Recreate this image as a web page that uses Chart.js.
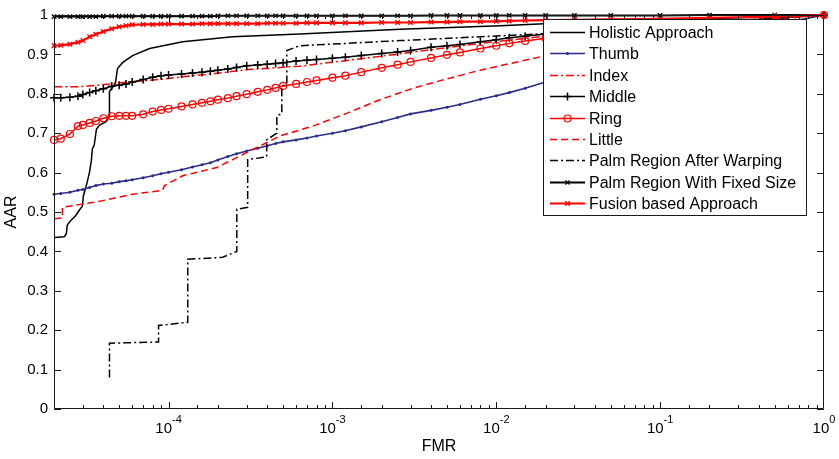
<!DOCTYPE html>
<html><head><meta charset="utf-8">
<script src="https://cdn.jsdelivr.net/npm/chart.js@4/dist/chart.umd.min.js"></script>
<style>html,body{margin:0;padding:0;background:#fff}canvas{display:block}</style>
</head><body>
<canvas id="c" width="839" height="459"></canvas>
<script>
// ---------- data ----------
const seriesNames = ['Holistic Approach','Thumb','Index','Middle','Ring','Little','Palm Region After Warping','Palm Region With Fixed Size','Fusion based Approach'];

// common FMR sample positions used by the marker curves
const gridX = [2e-5,2.2e-5,2.5e-5,2.8e-5,3e-5,3.3e-5,3.6e-5,4e-5,4.5e-5,5e-5,5.5e-5,6e-5,7e-5,8e-5,9e-5,
  1e-4,1.2e-4,1.4e-4,1.6e-4,1.8e-4,2e-4,2.3e-4,2.6e-4,3e-4,3.5e-4,4e-4,4.5e-4,5e-4,6e-4,7e-4,8e-4,
  1e-3,1.2e-3,1.5e-3,2e-3,2.5e-3,3e-3,4e-3,5e-3,6e-3,8e-3,1e-2,1.2e-2,1.5e-2,2e-2,3e-2,5e-2,0.1,0.2,0.5,1];

const thumbY = [0.545,0.547,0.55,0.555,0.557,0.562,0.567,0.571,0.573,0.577,0.579,0.582,0.587,0.592,0.597,
  0.601,0.607,0.614,0.62,0.625,0.632,0.641,0.648,0.655,0.662,0.668,0.674,0.678,0.683,0.688,0.693,
  0.70,0.706,0.716,0.729,0.74,0.749,0.758,0.766,0.773,0.786,0.795,0.803,0.814,0.83,0.85,0.875,0.905,0.935,0.975,1.0];
const middleY = [0.790,0.790,0.791,0.794,0.798,0.803,0.808,0.813,0.819,0.822,0.825,0.830,0.836,0.842,0.846,
  0.848,0.850,0.853,0.855,0.857,0.860,0.863,0.867,0.871,0.873,0.875,0.877,0.879,0.883,0.885,0.887,
  0.890,0.893,0.897,0.902,0.906,0.910,0.918,0.922,0.925,0.932,0.937,0.942,0.946,0.952,0.957,0.963,0.972,0.980,0.992,1.0];
const ringY = [0.683,0.686,0.698,0.718,0.721,0.726,0.731,0.738,0.743,0.744,0.744,0.744,0.748,0.755,0.759,
  0.762,0.768,0.773,0.777,0.781,0.785,0.789,0.794,0.799,0.805,0.810,0.815,0.820,0.825,0.830,0.834,
  0.841,0.846,0.855,0.866,0.874,0.881,0.891,0.899,0.905,0.915,0.922,0.928,0.934,0.941,0.950,0.959,0.970,0.980,0.992,1.0];
const fixedY = [0.996,0.996,0.996,0.996,0.996,0.996,0.996,0.997,0.997,0.997,0.997,0.997,0.997,0.997,0.997,
  0.997,0.997,0.997,0.997,0.997,0.998,0.998,0.998,0.998,0.998,0.998,0.998,0.998,0.998,0.998,0.998,
  0.998,0.998,0.998,0.998,0.998,0.998,0.999,0.999,0.999,0.999,0.999,0.999,0.999,0.999,0.999,0.999,0.999,1.0,1.0,1.0];
const fusionY = [0.922,0.923,0.926,0.931,0.935,0.945,0.951,0.958,0.965,0.970,0.973,0.975,0.976,0.976,0.977,
  0.977,0.977,0.977,0.978,0.978,0.978,0.978,0.978,0.978,0.978,0.979,0.979,0.979,0.979,0.98,0.98,
  0.98,0.98,0.98,0.981,0.981,0.981,0.982,0.982,0.983,0.983,0.984,0.985,0.986,0.987,0.988,0.989,0.99,0.993,0.996,1.0];

const holisticX = [2.01e-5,2.31e-5,2.38e-5,2.41e-5,2.55e-5,2.70e-5,2.86e-5,2.98e-5,3.02e-5,3.15e-5,3.29e-5,3.38e-5,3.43e-5,3.52e-5,3.63e-5,3.78e-5,4.18e-5,4.36e-5,4.36e-5,4.74e-5,4.88e-5,5.24e-5,6.03e-5,7.66e-5,1.22e-4,2.46e-4,6.32e-4,2.59e-3,1.06e-2,2.46e-2,0.177,1];
const holisticY = [0.435,0.437,0.445,0.467,0.48,0.49,0.505,0.515,0.54,0.567,0.60,0.63,0.66,0.67,0.71,0.72,0.73,0.743,0.806,0.826,0.864,0.879,0.897,0.915,0.932,0.945,0.952,0.964,0.973,0.98,0.99,1.0];

const indexX = [2.01e-5,2.86e-5,3.78e-5,4.81e-5,7.66e-5,1.22e-4,1.97e-4,3.13e-4,6.32e-4,1.95e-3,7.98e-3,1.86e-2,0.177,1];
const indexY = [0.818,0.818,0.822,0.827,0.834,0.843,0.852,0.862,0.87,0.895,0.928,0.945,0.978,1.0];

const littleX = [2.01e-5,2.25e-5,2.25e-5,2.98e-5,3.78e-5,6.03e-5,9.18e-5,9.45e-5,1.22e-4,1.97e-4,2.46e-4,3.13e-4,3.97e-4,4.78e-4,7.6e-4,1.23e-3,1.95e-3,3.1e-3,5.0e-3,7.98e-3,1.22e-2,1.86e-2,5.73e-2,0.177,0.546,1];
const littleY = [0.483,0.485,0.512,0.52,0.527,0.545,0.555,0.567,0.592,0.613,0.633,0.655,0.676,0.693,0.718,0.751,0.785,0.814,0.838,0.86,0.877,0.894,0.93,0.965,0.99,1.0];

const warpX = [4.36e-5,4.36e-5,8.69e-5,8.69e-5,1.31e-4,1.31e-4,2.14e-4,2.61e-4,2.61e-4,3.04e-4,3.04e-4,3.97e-4,3.97e-4,4.58e-4,4.58e-4,4.91e-4,4.91e-4,5.27e-4,5.27e-4,6.32e-4,2.59e-3,1.86e-2,0.177,1];
const warpY = [0.08,0.167,0.17,0.212,0.22,0.38,0.385,0.40,0.507,0.512,0.633,0.64,0.683,0.70,0.744,0.75,0.82,0.825,0.91,0.922,0.935,0.952,0.98,1.0];

const xMin = 2e-5, xMax = 1;
const xTickValues = [1e-4, 1e-3, 1e-2, 1e-1, 1];
const xTickBase = '10';
const xTickExps = ['-4', '-3', '-2', '-1', '0'];
const yTickValues = [0,0.1,0.2,0.3,0.4,0.5,0.6,0.7,0.8,0.9,1];
const yTickLabels = ['0','0.1','0.2','0.3','0.4','0.5','0.6','0.7','0.8','0.9','1'];

// ---------- chart ----------
const FONT = "'Liberation Sans', Arial, Helvetica, sans-serif";
Chart.defaults.font.family = FONT;
Chart.defaults.color = '#000';

function pts(xs, ys) { return xs.map((v, i) => ({x: v, y: ys[i]})); }
const RED = '#ff0000', BLK = '#000000', BLUE = '#2b2b8c';
const styles = [
  {borderColor: BLK, borderWidth: 1.5, pointRadius: 0},
  {borderColor: BLUE, borderWidth: 1.6, pointStyle: 'circle', pointRadius: 1.5, pointBorderWidth: 0, pointBackgroundColor: BLUE},
  {borderColor: RED, borderWidth: 1.5, borderDash: [8,3,2,3], pointRadius: 0},
  {borderColor: BLK, borderWidth: 1.5, pointStyle: 'cross', pointRadius: 4, pointBorderWidth: 1.5, pointBorderColor: BLK},
  {borderColor: RED, borderWidth: 1.5, pointStyle: 'circle', pointRadius: 3.5, pointBorderWidth: 1.2, pointBorderColor: RED, pointBackgroundColor: 'rgba(0,0,0,0)'},
  {borderColor: RED, borderWidth: 1.5, borderDash: [7,4], pointRadius: 0},
  {borderColor: BLK, borderWidth: 1.5, borderDash: [8,3,2,3], pointRadius: 0},
  {borderColor: BLK, borderWidth: 2, pointStyle: 'crossRot', pointRadius: 3, pointBorderWidth: 1.3, pointBorderColor: BLK},
  {borderColor: RED, borderWidth: 2.2, pointStyle: 'crossRot', pointRadius: 3.2, pointBorderWidth: 1.4, pointBorderColor: RED}
];
const allX = [holisticX, gridX, indexX, gridX, gridX, littleX, warpX, gridX, gridX];
const allY = [holisticY, thumbY, indexY, middleY, ringY, littleY, warpY, fixedY, fusionY];

const datasets = seriesNames.map((name, i) => Object.assign({
  label: name,
  data: pts(allX[i], allY[i]),
  fill: false, tension: 0, clip: 4,
  order: seriesNames.length - i
}, styles[i]));

const framePlugin = {
  id: 'frame',
  afterDatasetsDraw(chart) {
    const {ctx, chartArea: a, scales: {x, y}} = chart;
    ctx.save();
    ctx.strokeStyle = '#1a1a1a';
    ctx.lineWidth = 1;
    ctx.setLineDash([]);
    ctx.beginPath();
    ctx.rect(Math.round(a.left) + 0.5, Math.round(a.top) + 0.5, Math.round(a.right - a.left) - 1, Math.round(a.bottom - a.top) - 1);
    ctx.stroke();
    ctx.beginPath();
    x.ticks.forEach(t => {
      const px = Math.round(x.getPixelForValue(t.value)) + 0.5;
      if (px < a.left + 1 || px > a.right - 1) return;
      const len = t.major ? 7 : 4;
      ctx.moveTo(px, a.bottom); ctx.lineTo(px, a.bottom - len);
      ctx.moveTo(px, a.top); ctx.lineTo(px, a.top + len);
    });
    y.ticks.forEach(t => {
      const py = Math.round(y.getPixelForValue(t.value)) + 0.5;
      ctx.moveTo(a.left, py); ctx.lineTo(a.left + 7, py);
      ctx.moveTo(a.right, py); ctx.lineTo(a.right - 7, py);
    });
    ctx.stroke();

    // x tick labels: base with superscript exponent
    ctx.fillStyle = '#000';
    ctx.textAlign = 'left';
    ctx.textBaseline = 'alphabetic';
    xTickValues.forEach((v, i) => {
      const px = x.getPixelForValue(v);
      ctx.font = '15px ' + FONT;
      const w1 = ctx.measureText(xTickBase).width;
      ctx.font = '11px ' + FONT;
      const w2 = ctx.measureText(xTickExps[i]).width;
      const start = px - (w1 + w2) / 2;
      ctx.font = '15px ' + FONT;
      ctx.fillText(xTickBase, start, 433);
      ctx.font = '11px ' + FONT;
      ctx.fillText(xTickExps[i], start + w1, 423);
    });
    ctx.restore();
  }
};

const legendPlugin = {
  id: 'boxLegend',
  afterDraw(chart) {
    const {ctx} = chart;
    const bx = 543.5, by = 19.5, bw = 263, bh = 196;
    ctx.save();
    ctx.fillStyle = '#fff';
    ctx.fillRect(bx, by, bw, bh);
    ctx.strokeStyle = '#1a1a1a'; ctx.lineWidth = 1; ctx.setLineDash([]);
    ctx.strokeRect(bx, by, bw, bh);
    ctx.font = '16px ' + FONT;
    ctx.textBaseline = 'middle';
    ctx.textAlign = 'left';
    chart.data.datasets.forEach((ds, i) => {
      const cy = Math.round(32 + i * 21.4) + 0.5;
      ctx.strokeStyle = ds.borderColor;
      ctx.lineWidth = ds.borderWidth;
      ctx.setLineDash(ds.borderDash || []);
      ctx.beginPath(); ctx.moveTo(550, cy); ctx.lineTo(585, cy); ctx.stroke();
      ctx.setLineDash([]);
      if (ds.pointRadius > 0) {
        const cx = 567.5, r = ds.pointRadius;
        ctx.strokeStyle = ds.pointBorderColor || ds.borderColor;
        ctx.fillStyle = ds.pointBackgroundColor || 'rgba(0,0,0,0)';
        ctx.lineWidth = ds.pointBorderWidth || 1;
        ctx.beginPath();
        if (ds.pointStyle === 'circle') {
          ctx.arc(cx, cy, r, 0, Math.PI * 2);
          if (ds.pointBorderWidth) ctx.stroke(); else ctx.fill();
        } else if (ds.pointStyle === 'cross') {
          ctx.moveTo(cx - r, cy); ctx.lineTo(cx + r, cy);
          ctx.moveTo(cx, cy - r); ctx.lineTo(cx, cy + r); ctx.stroke();
        } else if (ds.pointStyle === 'crossRot') {
          const d = r * 0.707;
          ctx.moveTo(cx - d, cy - d); ctx.lineTo(cx + d, cy + d);
          ctx.moveTo(cx + d, cy - d); ctx.lineTo(cx - d, cy + d); ctx.stroke();
        }
      }
      ctx.fillStyle = '#000';
      ctx.fillText(ds.label, 589, cy + 1);
    });
    ctx.restore();
  }
};

new Chart(document.getElementById('c'), {
  type: 'line',
  data: {datasets},
  options: {
    responsive: false,
    animation: false,
    devicePixelRatio: 1,
    events: [],
    layout: {padding: {top: 11, right: 15, left: 0, bottom: 0}},
    plugins: {legend: {display: false}, tooltip: {enabled: false}},
    scales: {
      x: {
        type: 'logarithmic', min: xMin, max: xMax,
        grid: {display: false, drawTicks: false},
        border: {display: false},
        ticks: {display: false, autoSkip: false},
        title: {display: true, text: 'FMR', font: {size: 16}, padding: {top: 0, bottom: 3}},
        afterFit: s => { s.height = 50; }
      },
      y: {
        type: 'linear', min: 0, max: 1,
        grid: {display: false, drawTicks: false},
        border: {display: false},
        afterBuildTicks: s => { s.ticks = yTickValues.map(v => ({value: v})); },
        ticks: {
          padding: 6, font: {size: 15},
          callback: (v, i) => yTickLabels[i]
        },
        title: {display: true, text: 'AAR', font: {size: 16}, padding: {top: 2, bottom: 0}},
        afterFit: s => { s.width = 54; }
      }
    }
  },
  plugins: [framePlugin, legendPlugin]
});
</script>
</body></html>
